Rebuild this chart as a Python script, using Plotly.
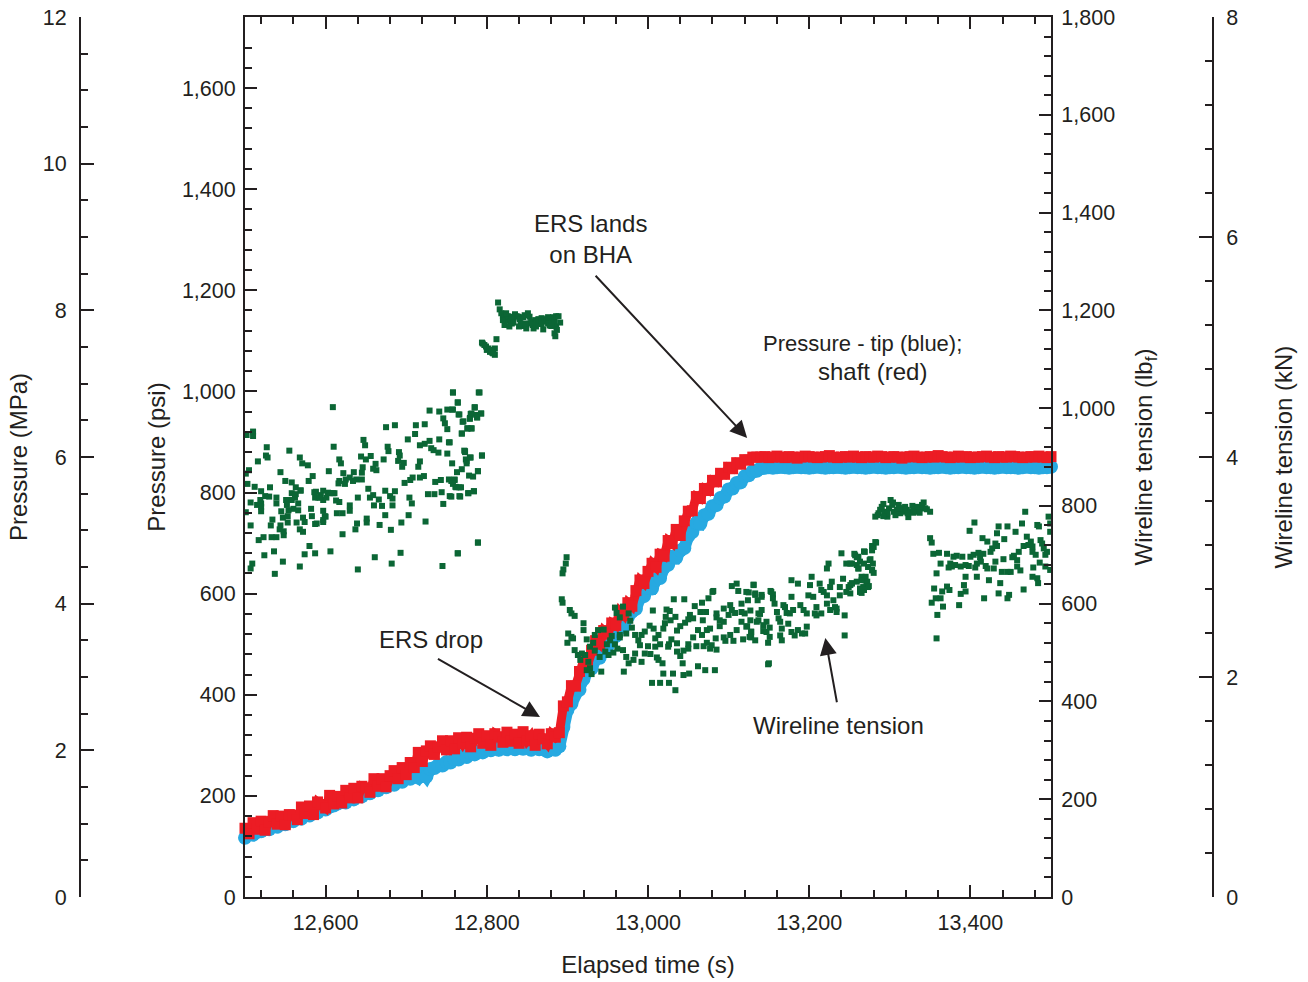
import plotly.graph_objects as go

# ---------------------------------------------------------------------------
# Pressure records (psi), sampled every 5 s from 12,500 s to 13,500 s
# ---------------------------------------------------------------------------
PRESSURE_T0 = 12500
PRESSURE_STEP = 5

shaft_psi = [
    # 12500-12885 s: slow build before the drop
    136, 125, 147, 134, 150, 132, 149, 161, 144, 160, 143, 163, 162,
    153, 178, 165, 180, 163, 188, 183, 176, 201, 184, 199, 186, 211,
    196, 215, 196, 219, 216, 207, 234, 219, 234, 218, 240, 250, 234,
    256, 242, 266, 256, 286, 268, 289, 299, 282, 297, 309, 291, 309,
    293, 315, 303, 316, 297, 314, 323, 304, 319, 300, 323, 317, 306,
    326, 308, 322, 304, 327, 309, 319, 300, 322, 313, 303, 323, 316,
    # 12890-13140 s: rise after the drop
    325, 378, 386, 418, 417, 446, 467, 460, 488, 507, 500, 527, 520,
    542, 537, 565, 557, 582, 575, 606, 627, 620, 644, 660, 652, 678,
    674, 705, 699, 727, 715, 744, 763, 764, 792, 788, 808, 804, 824,
    821, 838, 836, 850, 847, 859, 856, 865, 864, 870, 870, 870,
    # 13145-13500 s: landed
    871, 869, 870, 872, 870, 869, 871, 870, 868, 870, 872, 871,
    870, 869, 870, 871, 873, 870, 869, 870, 871, 870, 872, 870,
    869, 871, 870, 870, 872, 871, 869, 870, 871, 870, 868, 870,
    871, 872, 870, 869, 870, 871, 870, 873, 871, 870, 869, 870,
    872, 870, 871, 869, 870, 870, 871, 872, 870, 869, 871, 870,
    870, 872, 871, 870, 869, 870, 871, 870, 872, 870, 869, 871,
]

tip_psi = [
    # 12500-12885 s
    117, 124, 123, 129, 130, 135, 134, 141, 139, 146, 144, 151, 150,
    157, 155, 163, 161, 168, 167, 174, 173, 179, 181, 185, 188, 187,
    194, 193, 200, 199, 206, 205, 212, 211, 218, 217, 223, 222, 229,
    228, 235, 234, 242, 236, 248, 238, 253, 255, 261, 260, 267, 266,
    273, 272, 279, 277, 284, 282, 288, 286, 292, 290, 295, 291, 294,
    292, 296, 292, 297, 293, 295, 291, 296, 292, 293, 288, 292, 291,
    # 12890-13150 s
    298, 336, 370, 382, 404, 410, 431, 447, 452, 471, 473, 494, 497,
    515, 516, 533, 535, 554, 565, 570, 592, 595, 611, 610, 628, 631,
    652, 657, 673, 671, 685, 690, 714, 722, 740, 738, 755, 758, 773,
    775, 789, 792, 806, 808, 819, 820, 832, 834, 842, 843, 848, 849, 850,
    # 13155-13500 s
    849, 850, 851, 850, 849, 850, 851, 850, 850, 849,
    850, 851, 850, 849, 850, 850, 851, 850, 849, 850,
    851, 850, 850, 849, 850, 851, 850, 850, 849, 850,
    850, 851, 850, 849, 850, 850, 851, 850, 850, 849,
    850, 850, 851, 850, 849, 850, 850, 851, 850, 850,
    849, 850, 851, 850, 850, 849, 850, 851, 850, 850,
    850, 849, 850, 851, 850, 850, 849, 850, 850, 851,
]

shaft_time = [PRESSURE_T0 + PRESSURE_STEP * i for i in range(len(shaft_psi))]
tip_time = [PRESSURE_T0 + PRESSURE_STEP * i for i in range(len(tip_psi))]

# ---------------------------------------------------------------------------
# Wireline tension samples (time s, tension lbf)
# ---------------------------------------------------------------------------
tension_running_in = [
    (12609, 1002), (12758, 1032), (12790, 1032), (12764, 1011), (12510, 952), (12502, 945),
    (12510, 943), (12527, 920), (12555, 913), (12526, 903), (12528, 899), (12516, 891),
    (12568, 899), (12571, 887), (12578, 883), (12610, 921), (12647, 935), (12649, 924),
    (12617, 895), (12619, 887), (12644, 901), (12650, 895), (12656, 902), (12662, 886),
    (12672, 895), (12675, 961), (12686, 965), (12677, 921), (12678, 912), (12691, 910),
    (12692, 903), (12690, 892), (12702, 936), (12712, 965), (12723, 967), (12711, 947),
    (12729, 995), (12741, 993), (12751, 997), (12758, 997), (12746, 979), (12748, 969),
    (12751, 957), (12765, 987), (12770, 972), (12780, 988), (12785, 1002), (12788, 981),
    (12793, 989), (12779, 978), (12776, 958), (12781, 958), (12769, 948), (12753, 930),
    (12741, 936), (12729, 933), (12723, 927), (12717, 924), (12731, 918), (12734, 914),
    (12740, 909), (12751, 907), (12772, 913), (12773, 910), (12779, 899), (12775, 892),
    (12794, 903), (12717, 891), (12715, 880), (12697, 888), (12695, 880), (12663, 873),
    (12659, 876), (12646, 879), (12645, 868), (12635, 869), (12622, 867), (12617, 851),
    (12625, 854), (12630, 858), (12638, 854), (12645, 854), (12634, 851), (12624, 845),
    (12616, 846), (12604, 871), (12584, 861), (12579, 851), (12544, 869), (12550, 851),
    (12558, 848), (12563, 838), (12569, 831), (12588, 829), (12597, 831), (12605, 826),
    (12609, 826), (12594, 822), (12591, 817), (12597, 812), (12601, 817), (12611, 826),
    (12613, 811), (12617, 808), (12630, 801), (12640, 817), (12653, 835), (12655, 817),
    (12659, 822), (12666, 813), (12660, 801), (12670, 800), (12674, 831), (12680, 820),
    (12683, 815), (12683, 801), (12686, 830), (12698, 847), (12705, 853), (12708, 858),
    (12717, 858), (12722, 861), (12736, 849), (12743, 853), (12753, 854), (12760, 853),
    (12761, 839), (12766, 838), (12754, 820), (12744, 828), (12735, 824), (12727, 824),
    (12704, 817), (12707, 805), (12694, 766), (12703, 781), (12724, 768), (12746, 804),
    (12766, 820), (12777, 826), (12784, 830), (12789, 871), (12789, 725), (12764, 703),
    (12745, 677), (12693, 704), (12681, 751), (12661, 695), (12682, 682), (12640, 670),
    (12621, 742), (12637, 752), (12639, 764), (12651, 774), (12651, 766), (12667, 761),
    (12674, 781), (12630, 790), (12621, 785), (12614, 785), (12599, 779), (12589, 764),
    (12597, 767), (12583, 779), (12572, 776), (12574, 767), (12564, 766), (12568, 752),
    (12572, 747), (12580, 718), (12587, 703), (12574, 701), (12606, 707), (12547, 686),
    (12536, 707), (12537, 661), (12524, 699), (12509, 682), (12507, 760), (12517, 730),
    (12523, 736), (12533, 736), (12539, 736), (12548, 740), (12548, 748), (12543, 752),
    (12532, 760), (12534, 772), (12544, 760), (12547, 776), (12553, 766), (12553, 779),
    (12545, 789), (12539, 805), (12539, 817), (12530, 819), (12525, 820), (12520, 805),
    (12519, 812), (12507, 807), (12515, 802), (12520, 798), (12501, 787), (12520, 789),
    (12512, 839), (12520, 830), (12531, 838), (12551, 812), (12552, 802), (12558, 812),
    (12560, 794), (12566, 791), (12569, 832), (12562, 817), (12566, 805), (12554, 791),
    (12503, 845), (12505, 873), (12501, 866), (12558, 826), (12563, 824), (12586, 828),
    (12587, 817), (12582, 794), (12593, 817), (12603, 827), (12597, 790), (12597, 771),
    (12587, 763), (12600, 778), (12568, 676), (12507, 672),
    (12758, 1032), (12791, 1032), (12764, 1012), (12757, 997), (12785, 1001), (12766, 987),
    (12771, 973), (12779, 980), (12781, 989), (12787, 986), (12793, 989), (12788, 981),
    (12776, 959), (12781, 959), (12769, 948), (12754, 930), (12773, 912), (12774, 895),
    (12780, 899), (12794, 903), (12757, 887), (12775, 887), (12763, 869), (12769, 875),
    (12789, 871), (12778, 862), (12783, 860), (12756, 851), (12760, 854), (12758, 845),
    (12762, 838), (12768, 838), (12777, 826), (12784, 830), (12756, 819), (12767, 819),
    (12789, 725), (12764, 703),
]

tension_held = [
    (12794, 1134), (12797, 1129), (12800, 1119), (12804, 1115), (12807, 1113), (12810, 1122),
    (12810, 1109), (12812, 1141), (12802, 1122), (12806, 1119), (12795, 1132), (12799, 1126),
    (12808, 1112),
    (12814, 1216), (12816, 1202), (12818, 1194), (12820, 1188), (12822, 1186), (12824, 1180),
    (12826, 1188), (12829, 1177), (12831, 1173), (12822, 1170), (12833, 1184), (12835, 1192),
    (12837, 1188), (12839, 1187), (12841, 1182), (12842, 1173), (12843, 1168), (12845, 1186),
    (12847, 1190), (12849, 1163), (12851, 1194), (12853, 1187), (12853, 1173), (12855, 1177),
    (12858, 1163), (12860, 1180), (12862, 1177), (12864, 1182), (12866, 1175), (12868, 1184),
    (12870, 1161), (12872, 1182), (12874, 1177), (12876, 1173), (12878, 1169), (12880, 1180),
    (12882, 1186), (12884, 1177), (12886, 1167), (12886, 1188), (12889, 1188), (12891, 1175),
    (12887, 1160), (12884, 1153), (12885, 1147), (12880, 1168), (12876, 1186), (12868, 1172),
    (12861, 1167), (12857, 1170), (12848, 1173), (12840, 1167), (12833, 1175), (12828, 1167),
    (12824, 1194), (12820, 1180), (12831, 1187),
]

tension_falling = [
    (12899, 695), (12898, 682), (12895, 670), (12894, 662), (12893, 609), (12894, 602),
    (12903, 587), (12905, 580), (12909, 575), (12920, 560), (12920, 546), (12901, 539),
    (12905, 532), (12907, 529), (12900, 520), (12924, 527), (12934, 536), (12938, 546),
    (12945, 547), (12932, 520), (12928, 512), (12934, 504), (12909, 505), (12913, 495),
    (12918, 498), (12916, 485), (12922, 495), (12926, 481), (12928, 468), (12930, 456),
    (12924, 464), (12942, 461), (12940, 491), (12947, 502), (12951, 495), (12957, 500),
    (12959, 592), (12961, 581), (12965, 572), (12969, 594), (12976, 580), (12978, 565),
    (12980, 551), (12973, 539), (12965, 536), (12955, 534), (12953, 525), (12949, 517),
    (12959, 517), (12965, 531), (12962, 508), (12969, 505), (12973, 491), (12984, 536),
    (12988, 525), (12992, 536), (12990, 515), (12984, 498), (12982, 485), (12996, 498),
    (13000, 513), (13003, 497), (13006, 586), (12996, 543), (13002, 555), (13007, 549),
    (13009, 529), (13013, 536), (13015, 517), (13009, 512), (13011, 490), (13018, 478),
    (13013, 485), (13023, 588), (13027, 585), (13032, 609), (13045, 609), (13022, 573),
    (13028, 566), (13036, 545), (13040, 554), (13046, 561), (13050, 568), (13056, 570),
    (13058, 595), (13067, 602), (13075, 611), (13080, 624), (13081, 626), (13104, 636),
    (13110, 641), (13131, 639), (13112, 626), (13125, 623), (13133, 618), (13141, 618),
    (13136, 607), (13152, 626), (13026, 517), (13025, 512), (13036, 519), (13044, 504),
    (13040, 493), (13036, 502), (13050, 517), (13050, 508), (13060, 513), (13056, 531),
    (13067, 536), (13073, 546), (13077, 549), (13085, 572), (13089, 566), (13094, 563),
    (13100, 577), (13108, 581), (13116, 583), (13127, 586), (13139, 579), (13137, 566),
    (13147, 563), (13151, 551), (13143, 544), (13128, 543), (13123, 554), (13110, 546),
    (13102, 536), (13094, 531), (13084, 529), (13079, 515), (13073, 520), (13077, 508),
    (13085, 506), (13096, 524), (13106, 524), (13118, 527), (13128, 531), (13149, 520),
    (13149, 476), (13127, 566), (13089, 554), (13068, 566), (13062, 546), (13069, 513),
    (13031, 457), (13019, 457), (13005, 438), (13015, 438), (13026, 438), (13034, 423),
    (13043, 478), (13051, 457), (13062, 472), (13071, 464), (13083, 464), (12992, 481),
    (12976, 478), (12970, 461), (13044, 454), (13029, 527), (13019, 549), (13021, 560),
    (13034, 573), (13052, 577), (13065, 583), (13072, 583), (13085, 580), (13094, 590),
    (13102, 597), (13104, 587),
]

tension_approach = [
    (13122, 624), (13133, 621), (13124, 607), (13116, 600), (13141, 614), (13131, 638),
    (13137, 580), (13141, 587), (13120, 580), (13116, 563), (13122, 553), (13128, 542),
    (13135, 563), (13133, 525), (13126, 532), (13143, 556), (13147, 542), (13151, 532),
    (13153, 624), (13155, 619), (13157, 600), (13160, 583), (13162, 570), (13164, 563),
    (13166, 549), (13164, 535), (13166, 525), (13170, 593), (13172, 581), (13176, 580),
    (13180, 587), (13174, 559), (13178, 542), (13182, 535), (13186, 546), (13191, 539),
    (13195, 539), (13197, 553), (13178, 614), (13178, 648), (13186, 641), (13189, 597),
    (13193, 587), (13197, 580), (13199, 617), (13203, 655), (13201, 638), (13205, 614),
    (13209, 593), (13207, 580), (13213, 641), (13215, 628), (13218, 624), (13222, 617),
    (13222, 600), (13224, 682), (13222, 672), (13226, 634), (13228, 645), (13230, 607),
    (13232, 593), (13234, 590), (13238, 617), (13238, 634), (13240, 703), (13242, 651),
    (13246, 624), (13249, 634), (13251, 638), (13253, 641), (13246, 682), (13251, 682),
    (13257, 699), (13259, 679), (13261, 672), (13263, 686), (13265, 655), (13263, 624),
    (13267, 634), (13269, 648), (13271, 641), (13273, 634), (13275, 689), (13278, 668),
    (13273, 675), (13280, 716), (13282, 726), (13278, 709), (13269, 706), (13261, 696),
    (13244, 576), (13234, 583), (13226, 587), (13215, 580), (13209, 576), (13244, 535),
    (13150, 478), (13155, 611), (13168, 597),
    (13256, 702), (13259, 695), (13268, 707), (13253, 682), (13261, 672), (13268, 682),
    (13276, 691), (13279, 682), (13278, 669), (13280, 663), (13278, 718), (13283, 725),
    (13270, 655), (13265, 648), (13259, 645), (13253, 642), (13272, 645), (13274, 636),
    (13268, 628), (13263, 631), (13251, 621), (13265, 622),
]

tension_landed = [
    (13282, 778), (13286, 785), (13288, 792), (13290, 798), (13292, 804), (13294, 788),
    (13297, 778), (13299, 795), (13301, 812), (13303, 802), (13305, 788), (13307, 781),
    (13309, 792), (13311, 802), (13313, 785), (13315, 795), (13317, 788), (13319, 798),
    (13321, 792), (13323, 777), (13326, 788), (13328, 800), (13330, 793), (13332, 788),
    (13334, 798), (13336, 790), (13338, 795), (13340, 802), (13342, 807), (13344, 795),
    (13346, 793), (13350, 788), (13304, 807), (13297, 785), (13292, 779), (13285, 781),
    (13329, 786), (13337, 786), (13322, 785), (13312, 795),
]

tension_released = [
    (13350, 734), (13352, 725), (13354, 702), (13361, 704), (13358, 662), (13363, 682),
    (13355, 631), (13352, 602), (13359, 577), (13358, 529), (13357, 611), (13363, 611),
    (13366, 594), (13365, 625), (13371, 702), (13373, 674), (13375, 682), (13379, 696),
    (13381, 679), (13377, 676), (13371, 635), (13374, 628), (13383, 698), (13390, 696),
    (13388, 676), (13394, 655), (13392, 638), (13388, 620), (13394, 625), (13386, 597),
    (13394, 679), (13398, 677), (13400, 696), (13404, 700), (13406, 674), (13408, 682),
    (13410, 704), (13412, 695), (13413, 686), (13416, 702), (13419, 677), (13421, 672),
    (13423, 648), (13425, 706), (13427, 713), (13429, 672), (13431, 723), (13433, 718),
    (13435, 758), (13431, 686), (13435, 621), (13437, 642), (13441, 691), (13442, 732),
    (13446, 665), (13448, 618), (13450, 665), (13452, 695), (13454, 698), (13456, 747),
    (13458, 689), (13460, 706), (13462, 668), (13464, 764), (13466, 629), (13468, 788),
    (13470, 737), (13472, 720), (13475, 727), (13477, 706), (13478, 674), (13481, 700),
    (13483, 761), (13485, 758), (13487, 730), (13489, 723), (13491, 713), (13493, 700),
    (13495, 706), (13497, 778), (13499, 747), (13499, 764), (13483, 652), (13484, 642),
    (13477, 655), (13477, 717), (13433, 744), (13421, 727), (13415, 734), (13405, 766),
    (13399, 749), (13408, 655), (13417, 611), (13446, 611), (13439, 665), (13446, 758),
    (13466, 718), (13458, 676), (13493, 676), (13499, 669), (13486, 684),
]

tension_segments = [tension_running_in, tension_held, tension_falling,
                    tension_approach, tension_landed, tension_released]
tension_time = [t for seg in tension_segments for t, _ in seg]
tension_lbf = [v for seg in tension_segments for _, v in seg]

# ---------------------------------------------------------------------------
# Axis ranges (the psi/MPa and lbf/kN pairs share the same vertical span)
# ---------------------------------------------------------------------------
MPA_MAX = 12
PSI_PER_MPA = 145.0377
PSI_MAX = MPA_MAX * PSI_PER_MPA
LBF_MAX = 1800
KN_MAX = 8
TIME_RANGE = [12500, 13500]

INK = "#231f20"
FONT = "Liberation Sans, Arial, Helvetica, sans-serif"
BLUE = "#27a9e1"
RED = "#ec1c24"
GREEN = "#0b6635"
TICK_SIZE = 21.5
TITLE_SIZE = 24

W, H = 1308, 982
PLOT_LEFT, PLOT_RIGHT = 245, 1051
MPA_AXIS_X, KN_AXIS_X = 80, 1213

fig = go.Figure()

fig.add_trace(go.Scatter(
    x=tip_time, y=tip_psi, mode="lines+markers", name="Pressure - tip",
    line=dict(color=BLUE, width=12),
    marker=dict(symbol="circle", size=14, color=BLUE, line=dict(width=0)),
    cliponaxis=False, yaxis="y"))
fig.add_trace(go.Scatter(
    x=shaft_time, y=shaft_psi, mode="lines+markers", name="Pressure - shaft",
    line=dict(color=RED, width=9),
    marker=dict(symbol="square", size=11, color=RED, line=dict(width=0)),
    cliponaxis=False, yaxis="y"))
# empty traces so the MPa and kN companion scales are laid out
fig.add_trace(go.Scatter(x=[], y=[], yaxis="y2", showlegend=False))
fig.add_trace(go.Scatter(
    x=tension_time, y=tension_lbf, mode="markers", name="Wireline tension",
    marker=dict(symbol="square", size=6, color=GREEN, line=dict(width=0)),
    yaxis="y3"))
fig.add_trace(go.Scatter(x=[], y=[], yaxis="y4", showlegend=False))

common = dict(showgrid=False, zeroline=False, showline=True, linecolor=INK,
              linewidth=2, tickcolor=INK, tickwidth=2, ticks="inside",
              tickfont=dict(family=FONT, size=TICK_SIZE, color=INK))
title_font = dict(family=FONT, size=TITLE_SIZE, color=INK)

psi_minor = [v for v in range(40, 1700, 40) if v % 200]

fig.update_layout(
    width=W, height=H,
    margin=dict(l=0, r=0, t=17, b=85),
    paper_bgcolor="white", plot_bgcolor="white",
    showlegend=False,
    font=dict(family=FONT, size=TICK_SIZE, color=INK),
    xaxis=dict(
        **common, domain=[PLOT_LEFT / W, PLOT_RIGHT / W], range=TIME_RANGE,
        dtick=200, tick0=0, tickformat=",d", ticklen=12, mirror="ticks",
        ticklabelstandoff=5,
        minor=dict(dtick=40, tick0=0, ticks="inside", ticklen=7,
                   tickwidth=2, tickcolor=INK),
        title=dict(text="Elapsed time (s)", font=title_font, standoff=22)),
    yaxis=dict(
        **common, range=[0, PSI_MAX], dtick=200, tick0=0, tickformat=",d",
        ticklen=12, ticklabelstandoff=3,
        minor=dict(tickmode="array", tickvals=psi_minor, ticks="inside",
                   ticklen=7, tickwidth=2, tickcolor=INK),
        title=dict(text="Pressure (psi)", font=title_font, standoff=9)),
    yaxis2=dict(
        **common, overlaying="y", anchor="free", side="left",
        position=MPA_AXIS_X / W, range=[0, MPA_MAX], dtick=2, tick0=0,
        ticklen=13, ticklabelstandoff=8,
        minor=dict(dtick=0.5, tick0=0, ticks="inside", ticklen=7,
                   tickwidth=2, tickcolor=INK),
        title=dict(text="Pressure (MPa)", font=title_font, standoff=7)),
    yaxis3=dict(
        **common, overlaying="y", anchor="x", side="right",
        range=[0, LBF_MAX], dtick=200, tick0=0, tickformat=",d", ticklen=12,
        ticklabelstandoff=4,
        minor=dict(dtick=40, tick0=0, ticks="inside", ticklen=7,
                   tickwidth=2, tickcolor=INK),
        title=dict(text="Wireline tension (lb<sub>f</sub>)",
                   font=title_font, standoff=21)),
    yaxis4=dict(
        **common, overlaying="y", anchor="free", side="right",
        position=KN_AXIS_X / W, range=[0, KN_MAX], dtick=2, tick0=0,
        ticklen=13, ticklabelstandoff=8,
        minor=dict(dtick=0.4, tick0=0, ticks="inside", ticklen=7,
                   tickwidth=2, tickcolor=INK),
        title=dict(text="Wireline tension (kN)", font=title_font,
                   standoff=37)),
)

label_font = dict(family=FONT, size=TITLE_SIZE, color=INK)

# Note beside the landed pressures (two lines, set separately)
fig.add_annotation(x=13266, y=1095, xref="x", yref="y",
                   text="Pressure - tip (blue);", showarrow=False,
                   font=dict(family=FONT, size=22, color=INK))
fig.add_annotation(x=13279, y=1040, xref="x", yref="y",
                   text="shaft (red)", showarrow=False, font=label_font)

# Call-outs: (head time, head psi, tail dx px, tail dy px, text side, text)
callouts = [
    (13123, 908, -157, -168, "bottom", "ERS lands<br>on BHA"),
    (12866, 356, -109, -62, "bottom", "ERS drop"),
    (13220, 512, 13, 72, "top", "Wireline tension"),
]
for hx, hy, dx, dy, side, txt in callouts:
    fig.add_annotation(x=hx, y=hy, xref="x", yref="y", ax=dx, ay=dy,
                       text=txt, font=label_font, align="center",
                       xanchor="center", yanchor=side,
                       showarrow=True, arrowhead=2, arrowsize=1.7,
                       arrowwidth=2, arrowcolor=INK, standoff=0,
                       startstandoff=8)

fig.write_html("out.html")
